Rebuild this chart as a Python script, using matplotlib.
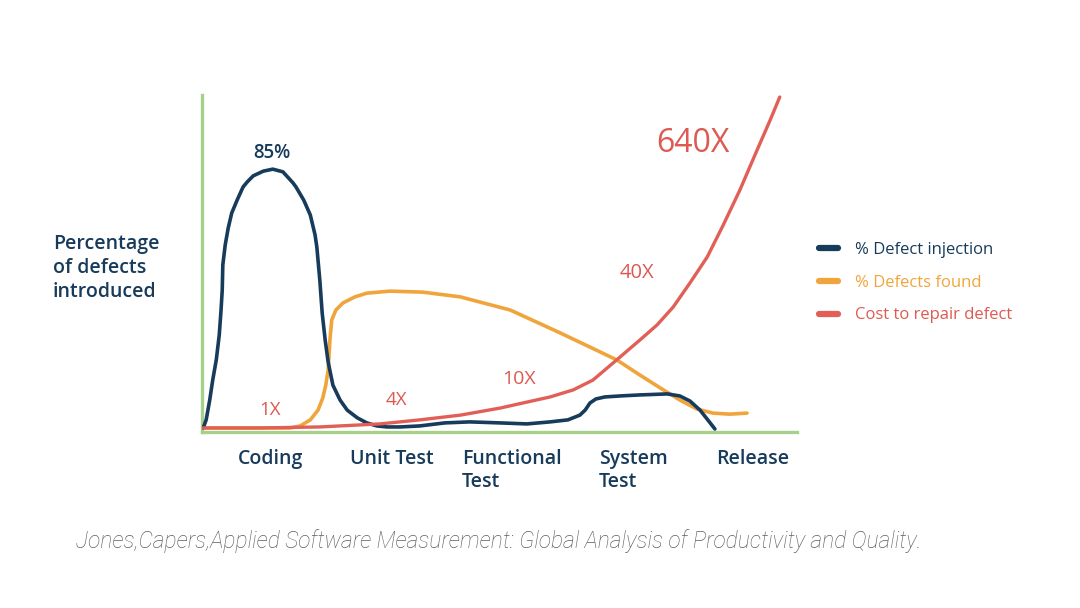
import matplotlib
matplotlib.use("Agg")
import matplotlib.pyplot as plt
from matplotlib.lines import Line2D

# ---- data (x: progress along timeline 0-100, y: % of chart height) ----
inj_x = [0.2, 0.7, 1.3, 1.8, 2.4, 2.9, 3.2, 3.4, 3.5, 3.9, 4.4, 5.0, 5.9, 6.9, 7.6, 8.6, 10.3,
         11.9, 13.6, 15.3, 15.8, 17.1, 18.2, 19.0, 19.3, 19.8, 20.2, 20.7, 21.2, 22.0, 23.2,
         24.4, 26.1, 27.7, 29.4, 31.1, 33.3, 36.6, 40.8, 45.0, 50.1, 54.6, 58.5, 61.5, 63.5,
         64.4, 65.2, 66.2, 67.7, 70.3, 73.6, 78.2, 80.3, 82.0, 83.7, 85.0, 86.2]
inj_y = [1.2, 3.6, 9.5, 15.4, 21.4, 28.8, 36.2, 42.1, 49.6, 55.5, 60.5, 65.0, 68.8, 72.7, 74.2,
         76.0, 77.4, 78.0, 77.2, 73.9, 72.7, 68.8, 64.4, 58.5, 54.9, 45.1, 35.3, 27.3, 20.8,
         13.9, 9.5, 6.5, 4.2, 2.7, 1.8, 1.5, 1.5, 1.8, 2.7, 3.0, 2.7, 2.4, 3.0, 3.6, 5.0, 6.5,
         8.6, 9.8, 10.4, 10.7, 11.0, 11.3, 10.7, 9.2, 6.5, 3.6, 0.9]

found_x = [0.2, 14.8, 16.5, 18.2, 19.5, 20.3, 20.8, 21.2, 21.5, 21.8, 22.5, 23.7, 25.7, 27.7,
           31.6, 37.1, 43.4, 51.8, 60.2, 65.2, 69.7, 73.6, 77.0, 80.3, 83.2, 85.9, 88.7, 91.6]
found_y = [1.2, 1.2, 1.8, 3.6, 6.5, 10.1, 13.9, 18.4, 27.3, 33.2, 36.2, 38.3, 40.1, 41.2,
           41.8, 41.5, 40.1, 36.2, 29.4, 25.2, 21.4, 16.9, 13.1, 9.5, 6.8, 5.6, 5.3, 5.6]

cost_x = [0.2, 9.7, 19.8, 29.9, 36.6, 43.4, 50.1, 53.9, 58.5, 62.4, 65.7, 69.7,
          73.6, 76.5, 79.2, 82.0, 84.9, 87.6, 90.4, 93.3, 95.5, 97.1]
cost_y = [1.2, 1.2, 1.5, 2.4, 3.6, 5.0, 7.1, 8.6, 10.4, 12.5, 15.4, 21.4, 27.3,
          31.8, 37.1, 44.2, 51.9, 61.4, 71.8, 83.7, 92.6, 99.4]

cost_labels = ["1X", "4X", "10X", "40X", "640X"]
cost_label_x = [11.4, 32.6, 53.3, 73.1, 82.5]
cost_label_y = [6.5, 9.5, 15.7, 47.2, 85.5]

peak_label = "85%"
stage_labels = ["Coding", "Unit Test", "Functional\nTest", "System\nTest", "Release"]
stage_x = [11.6, 31.9, 43.7, 66.7, 92.6]
stage_ha = ["center", "center", "left", "left", "center"]

series_names = ["% Defect injection", "% Defects found", "Cost to repair defect"]
ylabel = "Percentage\nof defects\nintroduced"
citation = "Jones,Capers,Applied Software Measurement: Global Analysis of Productivity and Quality."

NAVY = "#173b5a"
ORANGE = "#f0a53c"
RED = "#e25f57"
RED_TXT = "#dc5a52"
GREEN = "#a8d08d"

FONT = ["Open Sans", "DejaVu Sans"]
plt.rcParams["font.family"] = FONT
SEMI = 600

W, H = 1080, 608
fig = plt.figure(figsize=(W / 100, H / 100), dpi=100)
fig.patch.set_facecolor("white")
ax = fig.add_axes([202 / W, (H - 432) / H, 595 / W, 337 / H])
ax.set_xlim(0, 100)
ax.set_ylim(0, 100)

ax.plot(inj_x, inj_y, color=NAVY, lw=2.6, solid_joinstyle="round", solid_capstyle="round", zorder=3)
ax.plot(found_x, found_y, color=ORANGE, lw=2.6, solid_joinstyle="round", solid_capstyle="round", zorder=2)
ax.plot(cost_x, cost_y, color=RED, lw=2.4, solid_joinstyle="round", solid_capstyle="round",
        zorder=4, clip_on=False)

for s in ["top", "right"]:
    ax.spines[s].set_visible(False)
for s in ["left", "bottom"]:
    ax.spines[s].set_color(GREEN)
    ax.spines[s].set_linewidth(2.4)
ax.set_yticks([])
ax.set_xticks(stage_x)
ax.set_xticklabels(stage_labels)
ax.tick_params(axis="x", length=0, pad=12, labelsize=14, colors=NAVY)
for lab, ha in zip(ax.get_xticklabels(), stage_ha):
    lab.set_ha(ha)
    lab.set_va("top")
    lab.set_linespacing(1.22)
    lab.set_fontweight(SEMI)

ax.text(11.8, 82.8, peak_label, color=NAVY, fontsize=13.5, ha="center", va="center", fontweight=SEMI)
sizes = [13.5, 13.5, 14, 14.5, 23]
for t, x, y, fs in zip(cost_labels, cost_label_x, cost_label_y, sizes):
    ax.text(x, y, t, color=RED_TXT, fontsize=fs, ha="center", va="center")

fig.text(53 / W, 1 - 234 / H, ylabel, color=NAVY, fontsize=14, ha="left", va="top",
         linespacing=1.25, fontweight=SEMI)

handles = [Line2D([0], [0], color=c, lw=4.5, solid_capstyle="round") for c in (NAVY, ORANGE, RED)]
leg = fig.legend(handles, series_names, loc="upper left", bbox_to_anchor=(804 / W, 1 - 227 / H),
                 frameon=False, fontsize=12, handlelength=1.15, handletextpad=1.0,
                 labelspacing=1.0, labelcolor=[NAVY, ORANGE, RED_TXT])

fig.text(76 / W, 1 - 541 / H, citation, color="#5e5e5e", fontsize=16.4, style="italic",
         ha="left", va="center", family=["Roboto", "DejaVu Sans"], fontweight="light")

fig.savefig("out.png", dpi=100, facecolor="white")
